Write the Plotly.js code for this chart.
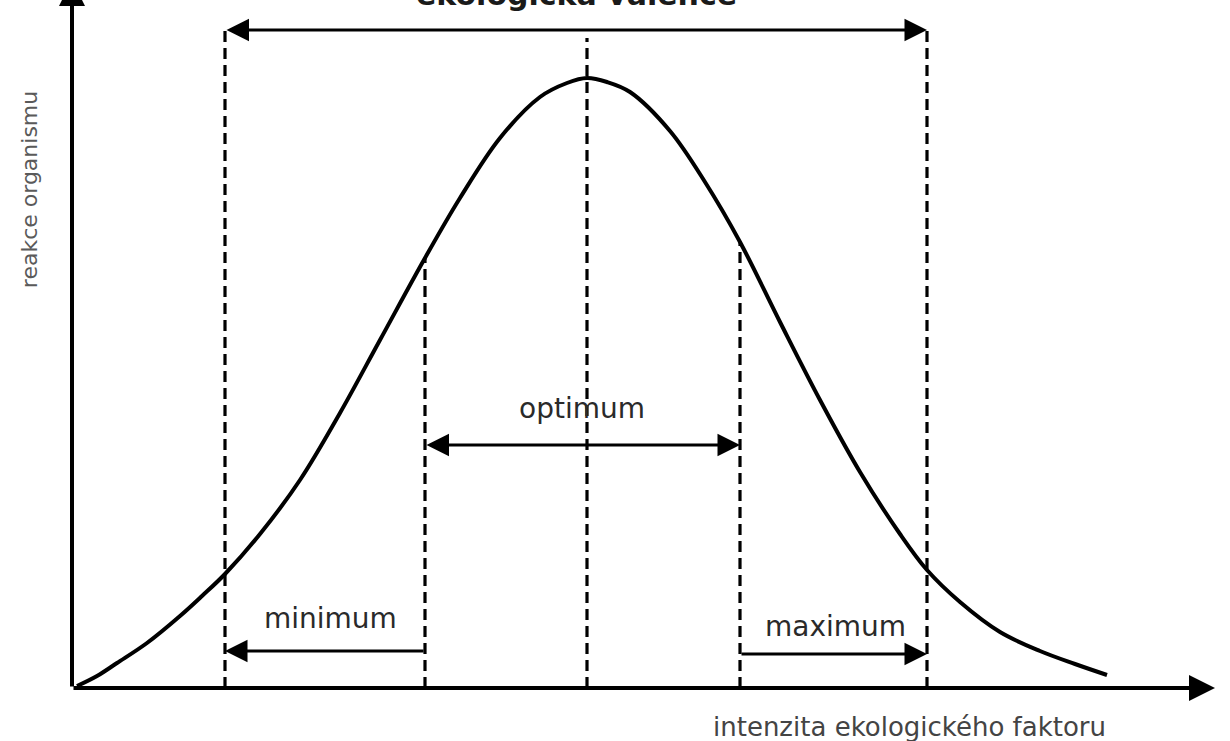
<!DOCTYPE html>
<html>
<head>
<meta charset="utf-8">
<script src="https://cdn.plot.ly/plotly-3.0.1.min.js"></script>
<style>
  html, body { margin: 0; padding: 0; background: #ffffff; }
  #chart { width: 1230px; height: 741px; }
</style>
</head>
<body>
<div id="chart"></div>
<script>
// Response curve of an organism along the intensity of an ecological factor
const curveX = [5, 25, 45, 75, 108, 130, 153, 188, 228, 268, 308, 353, 388, 428, 468, 495, 515,
                535, 558, 598, 633, 668, 708, 748, 788, 828, 855, 888, 928, 968, 1003, 1035];
const curveY = [2, 12, 25, 45, 72, 92, 114, 154, 208, 275, 348, 430, 490, 550, 591, 605, 610,
                606, 596, 557, 506, 446, 366, 288, 216, 154, 118, 86, 56, 37, 24, 13];

// Zone boundaries: lower limit, optimum start, peak, optimum end, upper limit
const boundaryX = [153, 353, 515, 668, 855];
const boundaryTop = [658, 430, 650, 446, 658];

// Zone names and the level of the arrow that spans each zone
const zoneNames = ['ekologická valence', 'optimum', 'minimum', 'maximum'];
const zoneLevels = [658, 243, 37, 34];

const axisTitles = ['reakce organismu', 'intenzita ekologického faktoru'];

const INK = '#000000';
const FONT = 'DejaVu Sans, Verdana, sans-serif';

const curve = {
  x: curveX,
  y: curveY,
  mode: 'lines',
  line: { color: INK, width: 4, shape: 'spline', smoothing: 1 },
  hoverinfo: 'skip',
  cliponaxis: false
};

// dashed verticals from the base line up to each boundary
const shapes = boundaryX.map((bx, i) => ({
  type: 'line', xref: 'x', yref: 'y',
  x0: bx, x1: bx, y0: 0, y1: boundaryTop[i],
  line: { color: INK, width: 3.2, dash: '11px,6px' }
}));

function arrow(x0, y0, x1, y1, both, opts) {
  return Object.assign({
    x: x1, y: y1, ax: x0, ay: y0,
    xref: 'x', yref: 'y', axref: 'x', ayref: 'y',
    text: '', showarrow: true,
    arrowhead: 2, arrowsize: 1.5, arrowwidth: 3, arrowcolor: INK,
    startarrowhead: 2, startarrowsize: 1.5,
    arrowside: both ? 'end+start' : 'end',
    standoff: 0, startstandoff: 0
  }, opts || {});
}

const annotations = [
  // axes with arrowheads
  arrow(0, 0, 0, 708, false, { arrowwidth: 4, arrowsize: 1.3 }),
  arrow(0, 0, 1143, 0, false, { arrowwidth: 4, arrowsize: 1.3 }),
  // zone spans
  arrow(boundaryX[0], zoneLevels[0], boundaryX[4], zoneLevels[0], true),
  arrow(boundaryX[1], zoneLevels[1], boundaryX[3], zoneLevels[1], true),
  arrow(boundaryX[1], zoneLevels[2], boundaryX[0], zoneLevels[2], false),
  arrow(boundaryX[3], zoneLevels[3], boundaryX[4], zoneLevels[3], false),
  // zone labels
  { text: '<b>' + zoneNames[0] + '</b>', xref: 'x', yref: 'paper', x: 504, y: 1.0073,
    xanchor: 'center', yanchor: 'middle', showarrow: false,
    font: { family: FONT, size: 30, color: '#1a1a1a' } },
  { text: zoneNames[1], xref: 'x', yref: 'y', x: 510, y: 280,
    xanchor: 'center', yanchor: 'middle', showarrow: false,
    font: { family: FONT, size: 28, color: '#2a2a2a' } },
  { text: zoneNames[2], xref: 'x', yref: 'y', x: 258, y: 70,
    xanchor: 'center', yanchor: 'middle', showarrow: false,
    font: { family: FONT, size: 28, color: '#2a2a2a' } },
  { text: zoneNames[3], xref: 'x', yref: 'y', x: 763, y: 62,
    xanchor: 'center', yanchor: 'middle', showarrow: false,
    font: { family: FONT, size: 28, color: '#2a2a2a' } },
  // axis titles
  { text: axisTitles[0], xref: 'paper', yref: 'y', x: -0.037, y: 498,
    xanchor: 'center', yanchor: 'middle', textangle: -90, showarrow: false,
    font: { family: FONT, size: 22, color: '#5a5a5a' } },
  { text: axisTitles[1], xref: 'x', yref: 'paper', x: 837, y: -0.057,
    xanchor: 'center', yanchor: 'middle', showarrow: false,
    font: { family: FONT, size: 26, color: '#444444' } }
];

const layout = {
  width: 1230, height: 741,
  margin: { l: 72, r: 0, t: 0, b: 53, pad: 0 },
  paper_bgcolor: '#ffffff', plot_bgcolor: '#ffffff',
  showlegend: false,
  xaxis: { range: [0, 1158], visible: false, fixedrange: true },
  yaxis: { range: [0, 688], visible: false, fixedrange: true },
  shapes: shapes,
  annotations: annotations
};

Plotly.newPlot('chart', [curve], layout, { displayModeBar: false, staticPlot: true });
</script>
</body>
</html>
